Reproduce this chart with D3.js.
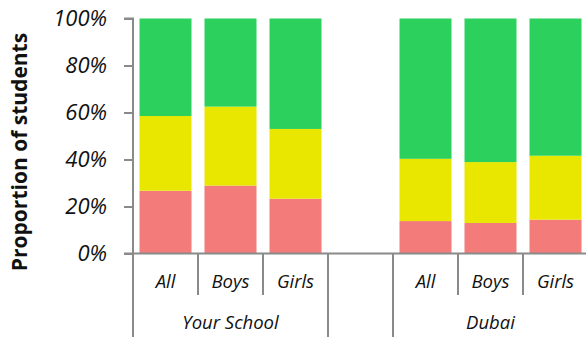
<!DOCTYPE html>
<html>
<head>
<meta charset="utf-8">
<script src="https://cdn.jsdelivr.net/npm/d3@7"></script>
<style>
  html, body { margin: 0; padding: 0; background: #fff; }
  svg { display: block; }
  text { font-family: "Open Sans", "Noto Sans", sans-serif; fill: #111; }
</style>
</head>
<body>
<svg id="chart" width="586" height="337"></svg>
<script>
// Slots along the category axis (an empty slot separates the two groups)
const categories = ["All", "Boys", "Girls", "", "All", "Boys", "Girls"];
const groups = ["Your School", "Your School", "Your School", "", "Dubai", "Dubai", "Dubai"];

// Stacked shares per slot, bottom to top
const lowShare  = [0.267, 0.289, 0.233, null, 0.138, 0.130, 0.144];
const midShare  = [0.318, 0.336, 0.297, null, 0.265, 0.259, 0.272];
const highShare = [0.415, 0.375, 0.470, null, 0.597, 0.611, 0.584];

const yTicks = [0, 0.2, 0.4, 0.6, 0.8, 1.0];
const tickLabels = ["0%", "20%", "40%", "60%", "80%", "100%"];

const seriesKeys = ["low", "mid", "high"];
const seriesColors = ["#f37b7a", "#e9e600", "#2bd15c"];

const svg = d3.select("#chart");
const plotLeft = 133, plotRight = 588, plotTop = 18.5, plotBottom = 253.5;
const axisColor = "#8a8a8a";

const slots = categories.map((c, i) => ({
  key: "s" + i, cat: c, group: groups[i],
  low: lowShare[i], mid: midShare[i], high: highShare[i]
}));

const x = d3.scaleBand()
  .domain(slots.map(d => d.key))
  .range([plotLeft, plotRight])
  .paddingInner(0.2)
  .paddingOuter(0.1);

const y = d3.scaleLinear().domain([0, 1]).range([plotBottom, plotTop]);

const stacked = d3.stack().keys(seriesKeys)
  .value((d, k) => d[k] == null ? 0 : d[k])(slots);

const color = d3.scaleOrdinal().domain(seriesKeys).range(seriesColors);

// Bars
svg.append("g").selectAll("g")
  .data(stacked)
  .join("g")
  .attr("fill", d => color(d.key))
  .selectAll("rect")
  .data(d => d.filter(p => p.data.low != null))
  .join("rect")
  .attr("x", p => x(p.data.key))
  .attr("width", x.bandwidth())
  .attr("y", p => y(p[1]))
  .attr("height", p => y(p[0]) - y(p[1]));

// Y axis
const yAxis = svg.append("g")
  .attr("transform", `translate(${plotLeft},0)`)
  .call(d3.axisLeft(y).tickValues(yTicks)
    .tickFormat((d, i) => tickLabels[i]).tickSize(9).tickPadding(17));
yAxis.select(".domain").attr("stroke", axisColor).attr("stroke-width", 2)
  .attr("d", `M-9,${plotTop}H0V${plotBottom}`);
yAxis.selectAll(".tick line").attr("stroke", axisColor).attr("stroke-width", 2);
yAxis.selectAll(".tick text")
  .attr("font-size", 22).attr("font-style", "italic").attr("fill", "#111")
  .attr("font-family", "'Open Sans', sans-serif");

// Category axis: baseline, inner separators and group separators
const step = x.step();
const slotLeft = i => plotLeft + i * step;
const axisG = svg.append("g").attr("stroke", axisColor).attr("stroke-width", 2);
axisG.append("line").attr("x1", plotLeft - 9).attr("x2", 586).attr("y1", plotBottom).attr("y2", plotBottom);

const boundaries = d3.range(categories.length + 1);
boundaries.forEach(i => {
  const isGroupEdge = i === 0 || i === categories.length || groups[i] !== groups[i - 1];
  axisG.append("line")
    .attr("x1", slotLeft(i)).attr("x2", slotLeft(i))
    .attr("y1", plotBottom).attr("y2", isGroupEdge ? 337 : 295);
});

// Category labels
svg.append("g").selectAll("text")
  .data(slots.filter(d => d.cat !== ""))
  .join("text")
  .attr("x", d => x(d.key) + x.bandwidth() / 2)
  .attr("y", 282)
  .attr("dy", "0.35em")
  .attr("text-anchor", "middle")
  .attr("font-size", 18.5).attr("font-style", "italic")
  .text(d => d.cat);

// Group labels
const groupNames = Array.from(new Set(groups.filter(g => g !== "")));
svg.append("g").selectAll("text")
  .data(groupNames)
  .join("text")
  .attr("x", g => {
    const idx = groups.map((v, i) => v === g ? i : -1).filter(i => i >= 0);
    return (slotLeft(d3.min(idx)) + slotLeft(d3.max(idx) + 1)) / 2;
  })
  .attr("y", 323)
  .attr("dy", "0.35em")
  .attr("text-anchor", "middle")
  .attr("font-size", 18.5).attr("font-style", "italic")
  .text(g => g);

// Y axis title
svg.append("text")
  .attr("transform", "translate(20,152) rotate(-90)")
  .attr("dy", "0.35em")
  .attr("text-anchor", "middle")
  .attr("font-size", 21).attr("font-weight", "bold")
  .text("Proportion of students");
</script>
</body>
</html>
